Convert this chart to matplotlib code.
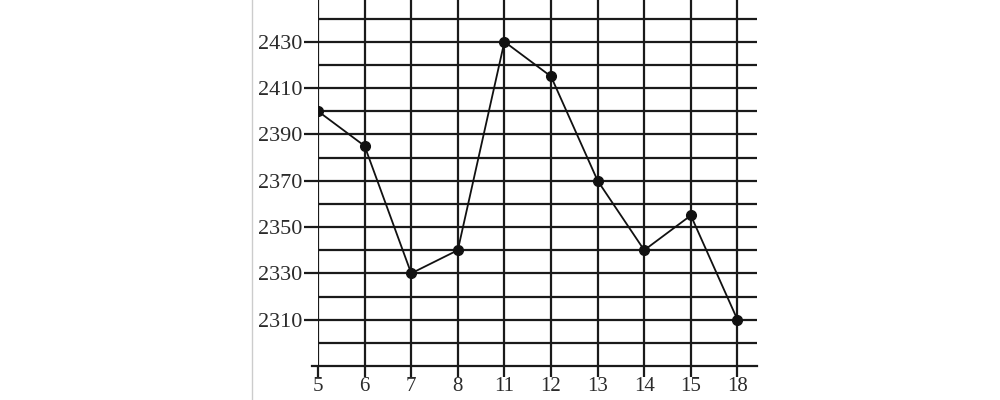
import matplotlib.pyplot as plt
import numpy as np
from matplotlib.lines import Line2D

categories = ['5', '6', '7', '8', '11', '12', '13', '14', '15', '18']
values = [2400, 2385, 2330, 2340, 2430, 2415, 2370, 2340, 2355, 2310]
label_ticks = [2310, 2330, 2350, 2370, 2390, 2410, 2430]
grid_levels = list(range(2300, 2450, 10))

plt.rcParams['font.family'] = ['Liberation Serif', 'DejaVu Serif']

fig = plt.figure(figsize=(10, 4), dpi=100)
ax = fig.add_axes([0.318, 0.085, 0.439, 0.915])

x = np.arange(len(categories))

# horizontal grid lines every 10
for lvl in grid_levels:
    ax.axhline(lvl, color='#1a1a1a', linewidth=1.6, zorder=1)
# vertical grid lines at each category
for xi in x:
    ax.axvline(xi, color='#1a1a1a', linewidth=1.6, zorder=1)

ax.plot(x, values, '-', color='#111111', linewidth=1.3, marker='o',
        markersize=7, zorder=3)

ax.set_xlim(0, 9.42)
ax.set_ylim(2290, 2448)
ax.set_xticks(x)
ax.set_xticklabels(categories, fontsize=15, color='#2b2b2b')
ax.set_yticks(label_ticks)
ax.set_yticklabels([str(t) for t in label_ticks], fontsize=16, color='#2b2b2b')
ax.tick_params(axis='y', length=10, width=1.6, color='#1a1a1a', pad=1)
ax.tick_params(axis='x', length=8, width=1.6, color='#1a1a1a', pad=0)

for side in ('top', 'right', 'left'):
    ax.spines[side].set_visible(False)
ax.spines['bottom'].set_linewidth(1.6)
ax.spines['bottom'].set_color('#1a1a1a')
ax.spines['bottom'].set_bounds(-0.13, 9.42)

# faint border of the scanned figure
fig.add_artist(Line2D([0.252, 0.252], [0, 1], color='#cccccc', linewidth=1))

fig.savefig('out.png', dpi=100)
